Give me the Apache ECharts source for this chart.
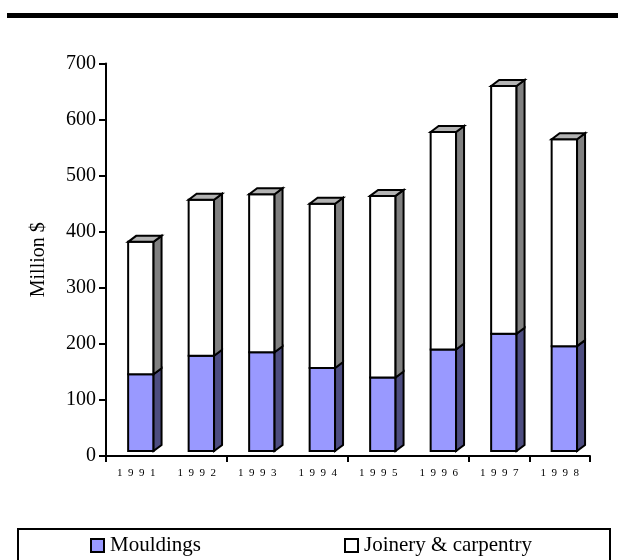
<!DOCTYPE html>
<html>
<head>
<meta charset="utf-8">
<script src="https://cdn.jsdelivr.net/npm/echarts@6/dist/echarts.min.js"></script>
<style>
  html, body { margin: 0; padding: 0; background: #fff; }
  #chart { width: 618px; height: 560px; }
</style>
</head>
<body>
<div id="chart"></div>
<script>
// Market value by product group, million dollars
const years = ['1991', '1992', '1993', '1994', '1995', '1996', '1997', '1998'];
const mouldings = [137, 170, 176, 148, 131, 181, 209, 187];
const joinery = [236, 278, 282, 293, 324, 388, 442, 369];
const yTicks = { min: 0, max: 700, step: 100 };

// Spaced-out year labels for the category axis
const yearLabels = years.map(y => y.split('').join('\u2002'));

// Pseudo-3D column geometry
const DEPTH_X = 8;     // side face width
const DEPTH_Y = 6;     // top face rise
const LIFT = 5;        // columns stand slightly back from the front floor edge
const BAR_RATIO = 0.42;
const SHIFT = 4.6;     // front face centre offset from category centre
const EDGE = 2;        // outline width

const FONT = '"Liberation Serif", "Times New Roman", serif';

function stackRows(layers, idx) {
  return years.map((_, i) => {
    let base = 0;
    for (let k = 0; k < idx; k++) base += layers[k][i];
    return [i, base, base + layers[idx][i]];
  });
}

function makeRender(frontColor, sideColor, topColor, drawTop) {
  return function (params, api) {
    const i = api.value(0);
    const base = api.value(1);
    const top = api.value(2);
    const cx = api.coord([i, 0])[0];
    const yb = api.coord([i, base])[1] - LIFT;
    const yt = api.coord([i, top])[1] - LIFT;
    const w = api.size([1, 0])[0] * BAR_RATIO;
    const x0 = cx + SHIFT - w / 2;
    const x1 = x0 + w;
    const stroke = { stroke: '#000', lineWidth: EDGE, lineJoin: 'miter' };
    const children = [
      {
        type: 'rect',
        shape: { x: x0, y: yt, width: w, height: yb - yt },
        style: Object.assign({ fill: frontColor }, stroke)
      },
      {
        type: 'polygon',
        shape: { points: [[x1, yb], [x1 + DEPTH_X, yb - DEPTH_Y], [x1 + DEPTH_X, yt - DEPTH_Y], [x1, yt]] },
        style: Object.assign({ fill: sideColor }, stroke)
      }
    ];
    if (drawTop) {
      children.push({
        type: 'polygon',
        shape: { points: [[x0, yt], [x0 + DEPTH_X, yt - DEPTH_Y], [x1 + DEPTH_X, yt - DEPTH_Y], [x1, yt]] },
        style: Object.assign({ fill: topColor }, stroke)
      });
    }
    return { type: 'group', children: children };
  };
}

const layers = [mouldings, joinery];
const chart = echarts.init(document.getElementById('chart'), null, { renderer: 'canvas' });

chart.setOption({
  backgroundColor: '#ffffff',
  animation: false,
  grid: { left: 106, top: 63.5, right: 28, bottom: 104, containLabel: false },
  graphic: [
    { type: 'rect', shape: { x: 7, y: 13, width: 611, height: 5 }, style: { fill: '#000' } },
    { type: 'rect', shape: { x: 18, y: 529, width: 592, height: 40 }, style: { fill: 'none', stroke: '#000', lineWidth: 2 } }
  ],
  legend: [
    {
      left: 90, top: 535, padding: 0, itemWidth: 13, itemHeight: 13, itemGap: 6,
      icon: 'rect',
      textStyle: { fontFamily: FONT, fontSize: 21, color: '#000', padding: [0, 0, 0, 1] },
      data: [{ name: 'Mouldings', itemStyle: { color: '#9999ff', borderColor: '#000', borderWidth: 2 } }]
    },
    {
      left: 344, top: 535, padding: 0, itemWidth: 13, itemHeight: 13, itemGap: 6,
      icon: 'rect',
      textStyle: { fontFamily: FONT, fontSize: 21, color: '#000', padding: [0, 0, 0, 1] },
      data: [{ name: 'Joinery & carpentry', itemStyle: { color: '#ffffff', borderColor: '#000', borderWidth: 2 } }]
    }
  ],
  xAxis: {
    type: 'category',
    data: yearLabels,
    boundaryGap: true,
    axisLine: { lineStyle: { color: '#000', width: 2 } },
    axisTick: { show: true, interval: 1, length: 6, lineStyle: { color: '#000', width: 2 } },
    axisLabel: { interval: 0, margin: 12, fontFamily: FONT, fontSize: 11, color: '#000' },
    splitLine: { show: false }
  },
  yAxis: {
    type: 'value',
    min: yTicks.min,
    max: yTicks.max,
    interval: yTicks.step,
    name: 'Million $',
    nameLocation: 'middle',
    nameRotate: 90,
    nameGap: 57,
    nameTextStyle: { fontFamily: FONT, fontSize: 20, color: '#000' },
    axisLine: { show: true, lineStyle: { color: '#000', width: 2 } },
    axisTick: { show: true, length: 7, lineStyle: { color: '#000', width: 2 } },
    axisLabel: { margin: 10, fontFamily: FONT, fontSize: 20, color: '#000' },
    splitLine: { show: false }
  },
  series: [
    {
      name: 'Mouldings',
      type: 'custom',
      renderItem: makeRender('#9999ff', '#4d4d80', '#9999ff', false),
      itemStyle: { color: '#9999ff', borderColor: '#000' },
      encode: { x: 0, y: 2 },
      data: stackRows(layers, 0)
    },
    {
      name: 'Joinery & carpentry',
      type: 'custom',
      renderItem: makeRender('#ffffff', '#808080', '#b3b3b3', true),
      itemStyle: { color: '#ffffff', borderColor: '#000' },
      encode: { x: 0, y: 2 },
      data: stackRows(layers, 1)
    }
  ]
});
</script>
</body>
</html>
